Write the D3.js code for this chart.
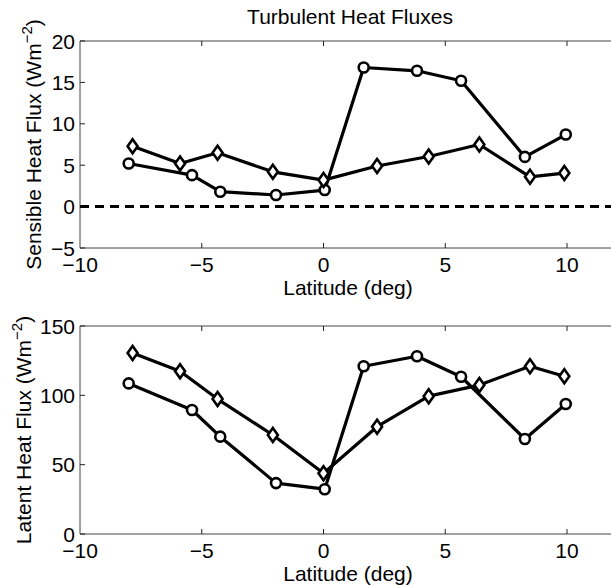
<!DOCTYPE html>
<html>
<head>
<meta charset="UTF-8" />
<title>Turbulent Heat Fluxes</title>
<script src="https://cdn.jsdelivr.net/npm/d3@7"></script>
<style>
  body { margin: 0; background: #fff; }
  text { font-family: "Liberation Sans", Arial, Helvetica, sans-serif; fill: #000; }
</style>
</head>
<body>
<svg width="611" height="586"></svg>
<script>
  // latitude of each station (deg)
  var latCircle  = [-8.0, -5.4, -4.24, -1.95, 0.05, 1.65, 3.84, 5.65, 8.27, 9.95];
  var latDiamond = [-7.84, -5.89, -4.35, -2.08, 0.0, 2.2, 4.32, 6.4, 8.48, 9.89];

  // sensible heat flux (W m^-2)
  var shCircle  = [5.2, 3.8, 1.8, 1.4, 2.0, 16.8, 16.4, 15.2, 6.0, 8.7];
  var shDiamond = [7.3, 5.2, 6.5, 4.2, 3.2, 4.9, 6.05, 7.5, 3.6, 4.05];

  // latent heat flux (W m^-2)
  var lhCircle  = [108.6, 89.4, 70.2, 36.7, 32.3, 121, 128.2, 113.4, 68.5, 93.7];
  var lhDiamond = [130.6, 117.4, 97.3, 71.4, 43.8, 77.4, 99.4, 107.4, 121, 113.8];

  var xTicks = [-10, -5, 0, 5, 10];
  var shTicks = [-5, 0, 5, 10, 15, 20];
  var lhTicks = [0, 50, 100, 150];

  var svg = d3.select("svg");

  var x = d3.scaleLinear().domain([-10, 12]).range([80, 615.7]);

  svg.append("text")
    .attr("x", 350).attr("y", 24)
    .attr("text-anchor", "middle")
    .attr("font-size", 21)
    .text("Turbulent Heat Fluxes");

  function minus(d) { return d < 0 ? "\u2212" + Math.abs(d) : d; }

  function panel(top, bottom, yDomain, yTicks, circ, diam, yLabel, labelX, dashedZero) {
    var y = d3.scaleLinear().domain(yDomain).range([bottom, top]);
    var g = svg.append("g");
    var x0 = x.range()[0], x1 = x.range()[1];

    // box
    g.append("path")
      .attr("d", "M" + x1 + "," + top + "H" + x0 + "V" + bottom + "H" + x1)
      .attr("fill", "none").attr("stroke", "#444").attr("stroke-width", 1);

    // ticks inside (top and bottom x, left y)
    xTicks.forEach(function (t) {
      if (t === xTicks[0]) return;
      g.append("line").attr("x1", x(t)).attr("x2", x(t)).attr("y1", bottom).attr("y2", bottom - 5)
        .attr("stroke", "#222");
      g.append("line").attr("x1", x(t)).attr("x2", x(t)).attr("y1", top).attr("y2", top + 5)
        .attr("stroke", "#222");
    });
    yTicks.forEach(function (t) {
      g.append("line").attr("x1", x0).attr("x2", x0 + 5).attr("y1", y(t)).attr("y2", y(t))
        .attr("stroke", "#222");
    });

    // tick labels
    g.selectAll(".xt").data(xTicks).enter().append("text")
      .attr("x", function (d) { return x(d); })
      .attr("y", bottom + 24)
      .attr("text-anchor", "middle")
      .attr("font-size", 21)
      .text(minus);
    g.selectAll(".yt").data(yTicks).enter().append("text")
      .attr("x", 75)
      .attr("y", function (d) { return y(d) + 7.5; })
      .attr("text-anchor", "end")
      .attr("font-size", 21)
      .text(minus);

    // axis labels
    g.append("text")
      .attr("x", 348).attr("y", bottom + 47)
      .attr("text-anchor", "middle")
      .attr("font-size", 21)
      .text("Latitude (deg)");
    var yl = g.append("text")
      .attr("transform", "translate(" + labelX + "," + ((top + bottom) / 2) + ") rotate(-90)")
      .attr("text-anchor", "middle")
      .attr("font-size", 21);
    yl.append("tspan").text(yLabel + " (Wm");
    yl.append("tspan").attr("dy", -9).attr("font-size", 15).text("\u22122");
    yl.append("tspan").attr("dy", 9).text(")");

    if (dashedZero) {
      g.append("line")
        .attr("x1", x0).attr("x2", x1).attr("y1", y(0)).attr("y2", y(0))
        .attr("stroke", "#000").attr("stroke-width", 3)
        .attr("stroke-dasharray", "9,6");
    }

    var line = d3.line().x(function (d) { return x(d[0]); }).y(function (d) { return y(d[1]); });
    var cData = d3.zip(circ[0], circ[1]);
    var dData = d3.zip(diam[0], diam[1]);

    [cData, dData].forEach(function (dat) {
      g.append("path").datum(dat).attr("d", line)
        .attr("fill", "none").attr("stroke", "#000").attr("stroke-width", 3.2)
        .attr("stroke-linejoin", "round");
    });

    g.selectAll(".cm").data(cData).enter().append("circle")
      .attr("cx", function (d) { return x(d[0]); })
      .attr("cy", function (d) { return y(d[1]); })
      .attr("r", 5)
      .attr("fill", "#fff").attr("stroke", "#000").attr("stroke-width", 2.6);

    g.selectAll(".dm").data(dData).enter().append("path")
      .attr("transform", function (d) { return "translate(" + x(d[0]) + "," + y(d[1]) + ")"; })
      .attr("d", "M0,-7L5,0L0,7L-5,0Z")
      .attr("fill", "#fff").attr("stroke", "#000").attr("stroke-width", 2.6);
  }

  panel(41, 248, [-5, 20], shTicks, [latCircle, shCircle], [latDiamond, shDiamond], "Sensible Heat Flux", 41, true);
  panel(326, 534, [0, 150], lhTicks, [latCircle, lhCircle], [latDiamond, lhDiamond], "Latent Heat Flux", 31, false);
</script>
</body>
</html>
